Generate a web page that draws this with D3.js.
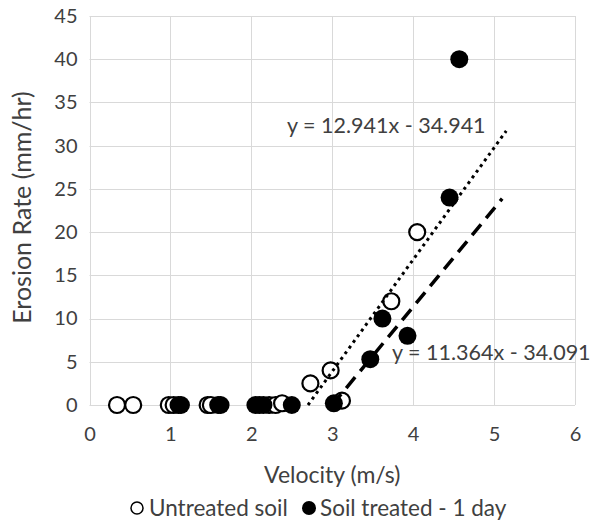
<!DOCTYPE html>
<html><head><meta charset="utf-8">
<script src="https://cdn.jsdelivr.net/npm/d3@7"></script>
<style>body{margin:0;background:#fff}svg{display:block}text{font-family:Lato,"Open Sans",sans-serif;fill:#404040}</style>
</head><body><svg id="c" width="592" height="524"></svg>
<script>
// Untreated soil (open circles)
const untreatedX = [0.34, 0.54, 0.98, 1.04, 1.46, 1.50, 2.22, 2.30, 2.38, 2.73, 2.98, 3.12, 3.73, 4.05];
const untreatedY = [0, 0, 0, 0, 0, 0, 0, 0, 0.2, 2.5, 4.0, 0.5, 12.0, 20.0];
// Soil treated - 1 day (filled circles)
const treatedX = [1.10, 1.13, 1.59, 1.62, 2.05, 2.10, 2.15, 2.50, 3.02, 3.47, 3.62, 3.93, 4.45, 4.57];
const treatedY = [0, 0, 0, 0, 0, 0, 0, 0, 0.2, 5.3, 10.0, 8.0, 24.0, 40.0];
// Trendlines
const trendUntreated = {slope: 12.941, intercept: -34.941, xEnd: 5.15, label: "y = 12.941x - 34.941"};
const trendTreated = {slope: 11.364, intercept: -34.091, xEnd: 5.10, label: "y = 11.364x - 34.091"};
const xTicks = [0, 1, 2, 3, 4, 5, 6];
const yTicks = [0, 5, 10, 15, 20, 25, 30, 35, 40, 45];
const xTitle = "Velocity (m/s)";
const yTitle = "Erosion Rate (mm/hr)";
const legendLabels = ["Untreated soil", "Soil treated - 1 day"];

const svg = d3.select("#c");
const L = 89.5, R = 575, T = 16, B = 405;
const x = d3.scaleLinear().domain([0, 6]).range([L, R]);
const y = d3.scaleLinear().domain([0, 45]).range([B, T]);
const grid = "#d9d9d9";

// gridlines
svg.append("g").selectAll("line").data(yTicks).join("line")
  .attr("x1", L).attr("x2", R).attr("y1", d => Math.round(y(d)) + 0.5).attr("y2", d => Math.round(y(d)) + 0.5)
  .attr("stroke", grid).attr("stroke-width", 1);
svg.append("g").selectAll("line").data(xTicks).join("line")
  .attr("y1", T).attr("y2", B).attr("x1", d => Math.round(x(d)) + 0.5).attr("x2", d => Math.round(x(d)) + 0.5)
  .attr("stroke", grid).attr("stroke-width", 1);

// axes (labels only)
const xAxis = d3.axisBottom(x).tickValues(xTicks).tickFormat(d3.format("d")).tickSize(0).tickPadding(22);
const gx = svg.append("g").attr("transform", `translate(0,${B})`).call(xAxis);
gx.select(".domain").remove();
gx.selectAll("text").style("font-size", "20px").attr("fill", "#404040");
const yAxis = d3.axisLeft(y).tickValues(yTicks).tickFormat(d3.format("d")).tickSize(0).tickPadding(12);
const gy = svg.append("g").attr("transform", `translate(${L},0)`).call(yAxis);
gy.select(".domain").remove();
gy.selectAll("text").style("font-size", "20px").attr("fill", "#404040");

// markers
const ptsU = untreatedX.map((v, i) => [v, untreatedY[i]]);
const ptsT = treatedX.map((v, i) => [v, treatedY[i]]);
svg.append("g").selectAll("circle").data(ptsU).join("circle")
  .attr("cx", d => x(d[0])).attr("cy", d => y(d[1])).attr("r", 8)
  .attr("fill", "#fff").attr("stroke", "#000").attr("stroke-width", 2.2);
svg.append("g").selectAll("circle").data(ptsT).join("circle")
  .attr("cx", d => x(d[0])).attr("cy", d => y(d[1])).attr("r", 9)
  .attr("fill", "#000");

// trendlines
function trend(t, dash, w) {
  const x0 = -t.intercept / t.slope;
  const pts = [[x0, 0], [t.xEnd, t.slope * t.xEnd + t.intercept]];
  svg.append("line")
    .attr("x1", x(pts[0][0])).attr("y1", y(pts[0][1]))
    .attr("x2", x(pts[1][0])).attr("y2", y(pts[1][1]))
    .attr("stroke", "#000").attr("stroke-width", w).attr("stroke-dasharray", dash);
}
trend(trendUntreated, "3,4", 3);
trend(trendTreated, "14,8", 3.5);

// equation labels
svg.append("text").attr("x", 287).attr("y", 133).style("font-size", "21.5px").text(trendUntreated.label);
svg.append("text").attr("x", 392).attr("y", 360).style("font-size", "21.5px").text(trendTreated.label);

// titles
svg.append("text").attr("x", (L + R) / 2).attr("y", 483).attr("text-anchor", "middle").style("font-size", "23px").text(xTitle);
svg.append("text").attr("transform", `translate(31,${(T + B) / 2 - 3}) rotate(-90)`).attr("text-anchor", "middle").style("font-size", "25px").text(yTitle);

// legend
const lg = svg.append("g");
lg.append("circle").attr("cx", 137).attr("cy", 508).attr("r", 6).attr("fill", "#fff").attr("stroke", "#000").attr("stroke-width", 1.5);
lg.append("text").attr("x", 149).attr("y", 516).style("font-size", "22.5px").text(legendLabels[0]);
lg.append("circle").attr("cx", 309).attr("cy", 508).attr("r", 7).attr("fill", "#000");
lg.append("text").attr("x", 320).attr("y", 516).style("font-size", "22.5px").text(legendLabels[1]);
</script></body></html>
